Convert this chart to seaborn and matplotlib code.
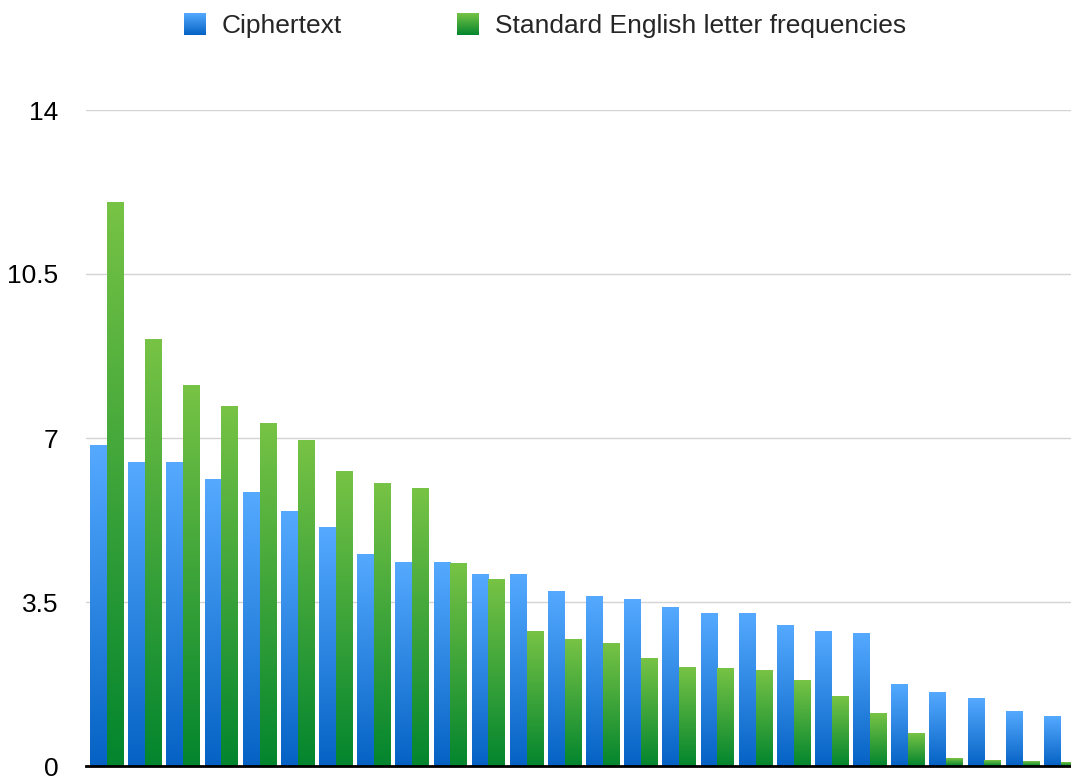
import numpy as np
import pandas as pd
import matplotlib
matplotlib.use("Agg")
import matplotlib.pyplot as plt
import seaborn as sns
from matplotlib.colors import LinearSegmentedColormap
from matplotlib.patches import Patch
from matplotlib.legend_handler import HandlerBase
from matplotlib.image import BboxImage
from matplotlib.transforms import Bbox, TransformedBbox

# ---------------- data ----------------
series_names = ["Ciphertext", "Standard English letter frequencies"]
ranks = [str(i) for i in range(1, 27)]
ciphertext = [6.85, 6.47, 6.47, 6.12, 5.83, 5.44, 5.10, 4.52, 4.35, 4.35,
              4.08, 4.08, 3.73, 3.61, 3.56, 3.39, 3.26, 3.26, 2.99, 2.88,
              2.82, 1.73, 1.56, 1.45, 1.17, 1.05]
english = [12.02, 9.10, 8.12, 7.68, 7.31, 6.95, 6.28, 6.02, 5.92, 4.32,
           3.98, 2.88, 2.71, 2.61, 2.30, 2.11, 2.09, 2.03, 1.82, 1.49,
           1.11, 0.69, 0.17, 0.11, 0.10, 0.07]
ytick_values = [0, 3.5, 7, 10.5, 14]
ytick_labels = ["0", "3.5", "7", "10.5", "14"]

# ---------------- style ----------------
sns.set_theme(style="white")
plt.rcParams["font.family"] = ["Liberation Sans", "DejaVu Sans"]

blue_top, blue_bot = "#55AAFF", "#0562C4"
green_top, green_bot = "#77C345", "#03852E"
cmaps = {
    series_names[0]: LinearSegmentedColormap.from_list("b", [blue_bot, blue_top]),
    series_names[1]: LinearSegmentedColormap.from_list("g", [green_bot, green_top]),
}
palette = {series_names[0]: "#2E86E6", series_names[1]: "#3BA43A"}

df = pd.DataFrame({
    "rank": ranks * 2,
    "series": [series_names[0]] * 26 + [series_names[1]] * 26,
    "value": ciphertext + english,
})

W, H = 1071, 777
fig = plt.figure(figsize=(W / 100, H / 100), dpi=100)
ax = fig.add_axes([86 / W, 11 / H, 985 / W, 656 / H])

sns.barplot(data=df, x="rank", y="value", hue="series", order=ranks,
            hue_order=series_names, palette=palette, width=0.88, gap=0,
            saturation=1, legend=False, ax=ax, zorder=2)

grad = np.linspace(0, 1, 256).reshape(-1, 1)
for name, cont in zip(series_names, ax.containers):
    for p in cont.patches:
        x0, w, h = p.get_x(), p.get_width(), p.get_height()
        p.set_visible(False)
        ax.imshow(grad, extent=[x0, x0 + w, 0, h], aspect="auto",
                  origin="lower", cmap=cmaps[name], interpolation="bilinear",
                  zorder=2)

ax.set_xlim(-0.55, -0.55 + 985 / 38.15)
ax.set_ylim(0, 14)
ax.set_xticks([])
ax.set_xlabel("")
ax.set_ylabel("")
ax.set_yticks(ytick_values)
ax.set_yticklabels(ytick_labels)
ax.tick_params(axis="y", length=0, pad=20, labelsize=19, colors="black")
ax.set_axisbelow(True)
ax.yaxis.grid(True, color="#d3d3d3", lw=1)
for s in ["top", "right", "left"]:
    ax.spines[s].set_visible(False)
ax.spines["bottom"].set_color("black")
ax.spines["bottom"].set_linewidth(2)
ax.spines["bottom"].set_zorder(3)


class GradHandler(HandlerBase):
    def __init__(self, cmap):
        super().__init__()
        self.cmap = cmap

    def create_artists(self, legend, orig_handle, xdescent, ydescent,
                       width, height, fontsize, trans):
        bb = Bbox.from_bounds(-xdescent, -ydescent, width, height)
        img = BboxImage(TransformedBbox(bb, trans), cmap=self.cmap,
                        interpolation="bilinear", origin="lower")
        img.set_data(grad)
        return [img]


handles = [Patch(label=n) for n in series_names]
fig.legend(handles=handles, labels=series_names, loc="center",
           bbox_to_anchor=(0.509, 1 - 26 / H), ncol=2, frameon=False,
           fontsize=19, handlelength=0.83, handleheight=0.87,
           handletextpad=0.6, columnspacing=4.36,
           handler_map={handles[0]: GradHandler(cmaps[series_names[0]]),
                        handles[1]: GradHandler(cmaps[series_names[1]])})

fig.savefig("out.png", dpi=100)
